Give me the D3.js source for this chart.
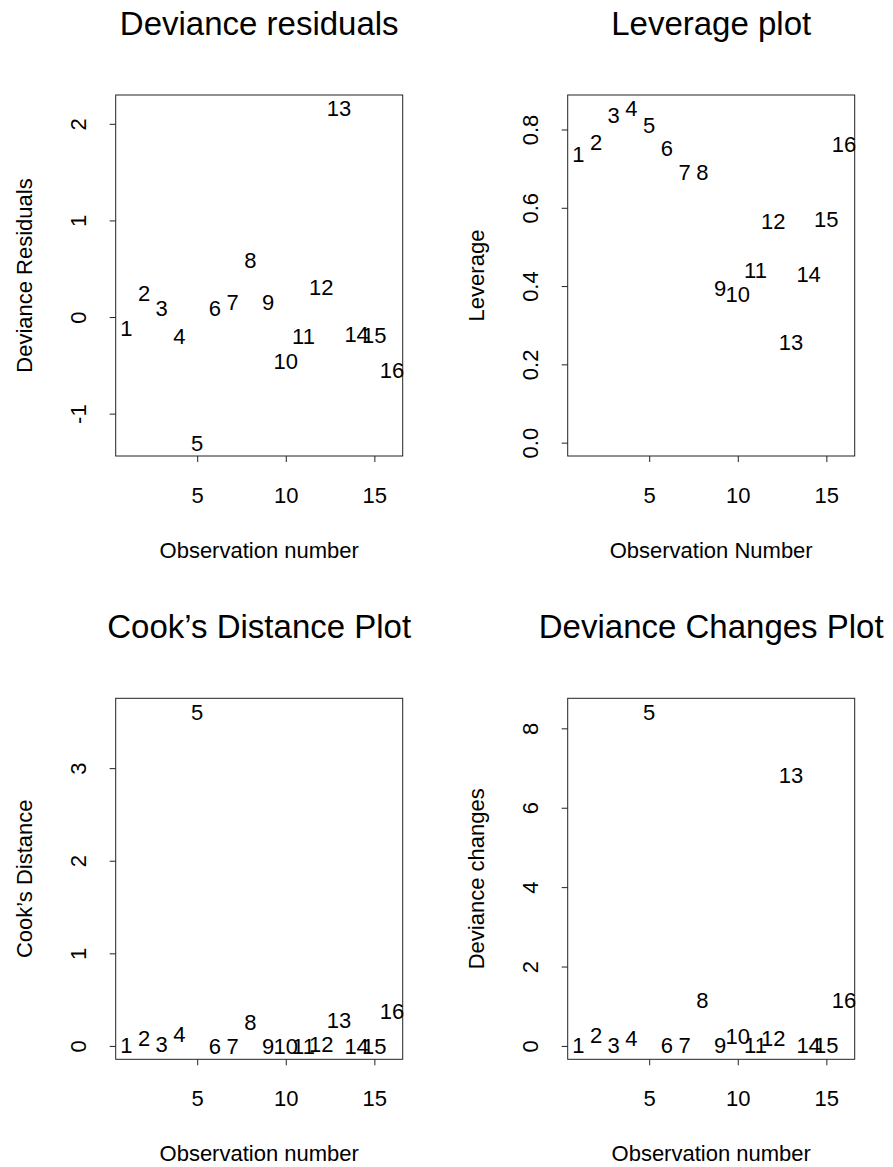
<!DOCTYPE html>
<html>
<head>
<meta charset="utf-8">
<script src="https://cdn.jsdelivr.net/npm/d3@7"></script>
<style>
  body { margin: 0; background: #fff; }
  text { font-family: "Liberation Sans", Arial, Helvetica, sans-serif; fill: #000; }
</style>
</head>
<body>
<div id="chart"></div>
<script>
// Observation index and the four diagnostics
const obs = [1, 2, 3, 4, 5, 6, 7, 8, 9, 10, 11, 12, 13, 14, 15, 16];
const devRes = [-0.11, 0.25, 0.09, -0.20, -1.30, 0.09, 0.15, 0.59, 0.15, -0.46, -0.20, 0.31, 2.16, -0.18, -0.19, -0.55];
const leverage = [0.736, 0.767, 0.837, 0.854, 0.811, 0.753, 0.691, 0.691, 0.396, 0.379, 0.441, 0.565, 0.257, 0.430, 0.572, 0.764];
const cooks = [0.005, 0.09, 0.02, 0.13, 3.61, 0.003, 0.003, 0.26, 0.002, 0.002, 0.001, 0.02, 0.28, 0.001, 0.003, 0.38];
const devChange = [0.01, 0.28, 0.03, 0.19, 8.42, 0.01, 0.02, 1.16, 0.01, 0.25, 0.01, 0.19, 6.83, 0.01, 0.03, 1.16];

// Tick labels
const xTicks = [5, 10, 15];
const devResTicks = [-1, 0, 1, 2];
const leverageTicks = [0, 0.2, 0.4, 0.6, 0.8];
const cooksTicks = [0, 1, 2, 3];
const devChangeTicks = [0, 2, 4, 6, 8];

const width = 893, height = 1167;
const boxW = 287, boxH = 361;

// R prints a plain hyphen for negative numbers
const fmtInt = d => String(d);
const fmtOne = d => d.toFixed(1);

const svg = d3.select("#chart")
    .append("svg")
    .attr("width", width)
    .attr("height", height);

// R style: pad the data range by 4% on each side
function padded(lo, hi) {
    const r = hi - lo;
    return [lo - 0.04 * r, hi + 0.04 * r];
}

function drawPanel(p) {
    const g = svg.append("g")
        .attr("transform", "translate(" + p.left + "," + p.top + ")");

    const xScale = d3.scaleLinear()
        .domain(padded(d3.min(obs), d3.max(obs)))
        .range([0, boxW]);

    const yScale = d3.scaleLinear()
        .domain(padded(Math.min(0, d3.min(p.values)), d3.max(p.values)))
        .range([boxH, 0]);

    // X axis
    const xAxis = g.append("g")
        .attr("transform", "translate(0," + boxH + ")")
        .call(d3.axisBottom(xScale).tickValues(xTicks).tickFormat(fmtInt).tickSize(6).tickSizeOuter(0));
    xAxis.select(".domain").remove();
    xAxis.selectAll("line").attr("stroke", "#222");
    xAxis.selectAll("text")
        .attr("y", 47)
        .attr("dy", null)
        .attr("font-size", "22px")
        .attr("font-family", null);

    // Y axis, labels turned parallel to the axis
    const yAxis = g.append("g")
        .call(d3.axisLeft(yScale).tickValues(p.ticks).tickFormat(p.fmt).tickSize(6).tickSizeOuter(0));
    yAxis.select(".domain").remove();
    yAxis.selectAll("line").attr("stroke", "#222");
    yAxis.selectAll("text")
        .attr("x", null)
        .attr("dy", null)
        .attr("transform", "translate(-30,0) rotate(-90)")
        .attr("text-anchor", "middle")
        .attr("font-size", "22px")
        .attr("font-family", null);

    // Frame
    g.append("rect")
        .attr("width", boxW)
        .attr("height", boxH)
        .attr("fill", "none")
        .attr("stroke", "#222")
        .attr("stroke-width", 1);

    // Observation numbers used as the plotting symbols
    g.selectAll(".pt")
        .data(obs)
        .enter()
        .append("text")
        .attr("class", "pt")
        .attr("x", (d, i) => xScale(d))
        .attr("y", (d, i) => yScale(p.values[i]))
        .attr("dy", "0.36em")
        .attr("text-anchor", "middle")
        .attr("font-size", "22px")
        .text(d => d);

    // Title
    g.append("text")
        .attr("x", boxW / 2)
        .attr("y", -60)
        .attr("text-anchor", "middle")
        .attr("font-size", "33px")
        .text(p.title);

    // Axis titles
    g.append("text")
        .attr("x", boxW / 2)
        .attr("y", boxH + 102)
        .attr("text-anchor", "middle")
        .attr("font-size", "22px")
        .text(p.xLabel);

    g.append("text")
        .attr("transform", "translate(-84," + boxH / 2 + ") rotate(-90)")
        .attr("text-anchor", "middle")
        .attr("font-size", "22px")
        .text(p.yLabel);
}

drawPanel({ left: 115.7, top: 95, values: devRes, ticks: devResTicks, fmt: fmtInt,
    title: "Deviance residuals", xLabel: "Observation number", yLabel: "Deviance Residuals" });
drawPanel({ left: 567.7, top: 95, values: leverage, ticks: leverageTicks, fmt: fmtOne,
    title: "Leverage plot", xLabel: "Observation Number", yLabel: "Leverage" });
drawPanel({ left: 115.7, top: 698.3, values: cooks, ticks: cooksTicks, fmt: fmtInt,
    title: "Cook\u2019s Distance Plot", xLabel: "Observation number", yLabel: "Cook\u2019s Distance" });
drawPanel({ left: 567.7, top: 698.3, values: devChange, ticks: devChangeTicks, fmt: fmtInt,
    title: "Deviance Changes Plot", xLabel: "Observation number", yLabel: "Deviance changes" });
</script>
</body>
</html>
